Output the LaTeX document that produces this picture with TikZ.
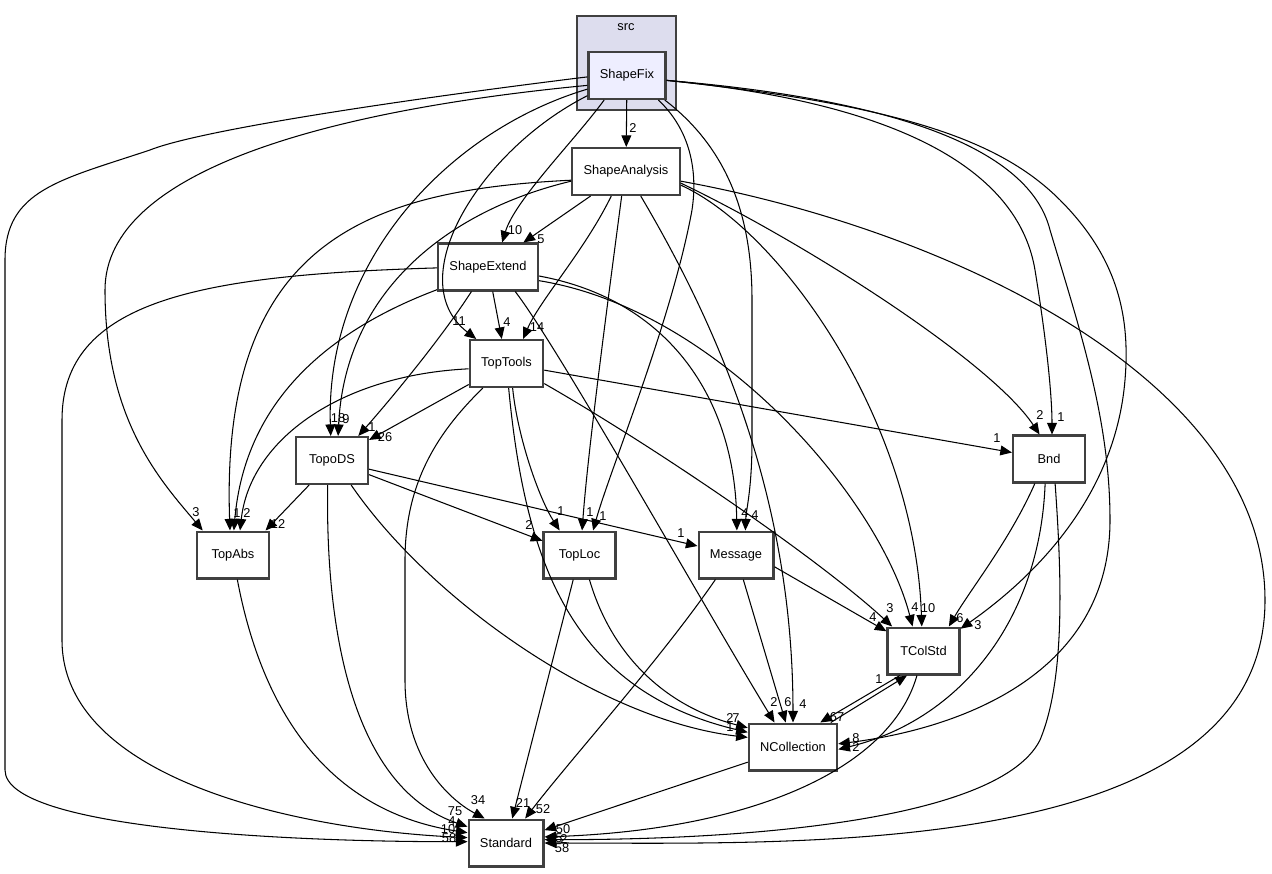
\documentclass[tikz,border=0pt]{standalone}
\usepackage{fontspec}
\setmainfont{Liberation Sans}
\usetikzlibrary{arrows.meta}

\definecolor{clusterfill}{HTML}{DDDDEE}
\definecolor{mainfill}{HTML}{EEEEFF}
\definecolor{boxline}{HTML}{404040}

\begin{document}
\begin{tikzpicture}[x=0.02cm,y=-0.02cm,
  dirbox/.style={rectangle,draw=boxline,line width=1.2pt,fill=white,minimum width=41pt,minimum height=26.7pt,inner xsep=6.5pt,font=\fontsize{7.3}{8}\selectfont},
  dep/.style={-{Triangle[length=6.6pt,width=5.6pt]},line width=0.6pt},
  lbl/.style={font=\fontsize{7.3}{8}\selectfont,inner sep=0pt}]
\useasboundingbox (0,0) rectangle (1272,873);

% src cluster
\node[draw=boxline,line width=1.2pt,fill=clusterfill,minimum width=56.3pt,minimum height=53.5pt,inner sep=0pt] (srcbox) at (626.5,63) {};
\node[lbl] (srclbl) at (626,27) {src};

\node[dirbox,fill=mainfill] (sf) at (627,75.5) {ShapeFix};
\node[dirbox] (sa) at (626,171.5) {ShapeAnalysis};
\node[dirbox] (se) at (488,267) {ShapeExtend};
\node[dirbox] (tt) at (506.5,363.5) {TopTools};
\node[dirbox] (tds) at (332,460.5) {TopoDS};
\node[dirbox] (tab) at (233,555) {TopAbs};
\node[dirbox] (tl) at (579.5,555) {TopLoc};
\node[dirbox] (msg) at (736,555) {Message};
\node[dirbox] (bnd) at (1049,459) {Bnd};
\node[dirbox] (tcs) at (923.5,651) {TColStd};
\node[dirbox] (nc) at (793,747) {NCollection};
\node[dirbox] (std) at (506,843) {Standard};

% ShapeFix
\draw[dep] (sf) -- (sa);
\draw[dep] (sf.-133) .. controls (575,140) and (515,200) .. (se.60);
\draw[dep] (sf.-153) .. controls (480,150) and (400,280) .. (tt.141);
\draw[dep] (sf.-161) .. controls (450,130) and (325,260) .. (tds.93);
\draw[dep] (sf.-166) .. controls (330,110) and (105,170) .. (105,290) .. controls (105,420) and (160,480) .. (tab.141);
\draw[dep] (sf.-178) .. controls (400,100) and (200,130) .. (150,150) .. controls (60,180) and (5,190) .. (5,260) -- (5,770) .. controls (5,830) and (300,842) .. (std.178);
\draw[dep] (sf.-38) .. controls (690,130) and (698,170) .. (692,210) .. controls (672,320) and (610,470) .. (tl.61);
\draw[dep] (sf.-33) .. controls (730,150) and (752,220) .. (752,300) -- (752,440) .. controls (752,490) and (746,510) .. (msg.69);
\draw[dep] (sf.-7) .. controls (920,105) and (1020,180) .. (1035,270) .. controls (1048,350) and (1052,400) .. (bnd.83);
\draw[dep] (sf.-7) .. controls (900,105) and (1000,140) .. (1060,200) .. controls (1120,260) and (1130,320) .. (1125,380) .. controls (1115,500) and (1030,580) .. (tcs.31);
\draw[dep] (sf.-7) .. controls (900,100) and (1030,150) .. (1050,230) .. controls (1080,330) and (1110,420) .. (1110,520) .. controls (1110,680) and (950,730) .. (nc.4);

% ShapeAnalysis
\draw[dep] (sa) -- (se);
\draw[dep] (sa.-121) .. controls (585,250) and (540,300) .. (tt.56);
\draw[dep] (sa.-100) .. controls (608,300) and (588,450) .. (tl.84);
\draw[dep] (sa.-59) .. controls (720,330) and (793,500) .. (nc.90);
\draw[dep] (sa.-170) .. controls (450,210) and (345,290) .. (tds.76);
\draw[dep] (sa.-171) .. controls (370,190) and (220,240) .. (tab.97);
\draw[dep] (sa.-14) .. controls (780,230) and (915,420) .. (tcs.94);
\draw[dep] (sa.-12) .. controls (800,240) and (990,360) .. (bnd.111);
\draw[dep] (sa.-10) .. controls (950,230) and (1265,380) .. (1265,600) .. controls (1265,860) and (800,843) .. (std.0);

% ShapeExtend
\draw[dep] (se) -- (tt);
\draw[dep] (se.-124) .. controls (440,340) and (390,400) .. (tds.43);
\draw[dep] (se.-156) .. controls (330,330) and (245,400) .. (tab.88);
\draw[dep] (se.-179) .. controls (200,275) and (62,300) .. (62,420) -- (62,640) .. controls (62,780) and (300,830) .. (std.172);
\draw[dep] (se.-10) .. controls (670,300) and (735,400) .. (msg.88);
\draw[dep] (se.-15) .. controls (720,310) and (880,500) .. (tcs.114);
\draw[dep] (se.-42) .. controls (560,350) and (700,600) .. (nc.127);

% TopTools
\draw[dep] (tt) -- (tds);
\draw[dep] (tt.188) .. controls (340,375) and (250,440) .. (tab.74);
\draw[dep] (tt.-76) .. controls (518,440) and (540,500) .. (tl.129);
\draw[dep] (tt) -- (bnd);
\draw[dep] (tt.-28) .. controls (660,450) and (820,560) .. (tcs.142);
\draw[dep] (tt.-85) .. controls (525,560) and (570,690) .. (nc.162);
\draw[dep] (tt.-134) .. controls (440,430) and (405,480) .. (405,560) -- (405,680) .. controls (405,760) and (450,800) .. (std.131);

% TopoDS
\draw[dep] (tds.-133) -- (tab.37);
\draw[dep] (tds) -- (tl);
\draw[dep] (tds) -- (msg);
\draw[dep] (tds.-52) .. controls (430,600) and (600,720) .. (nc.168);
\draw[dep] (tds.-100) .. controls (325,650) and (360,790) .. (std.157);

\draw[dep] (tab.-80) .. controls (260,700) and (320,810) .. (std.165);

\draw[dep] (tl) -- (std);
\draw[dep] (tl.-68) .. controls (610,650) and (660,705) .. (nc.157);

\draw[dep] (msg.-130) .. controls (660,660) and (570,760) .. (std.52);
\draw[dep] (msg) -- (nc);
\draw[dep] (msg.-17) -- (tcs.152);

\draw[dep] (bnd.-120) .. controls (1010,540) and (970,590) .. (tcs.44);
\draw[dep] (bnd.-99) .. controls (1040,620) and (960,720) .. (nc.-3);
\draw[dep] (bnd.-76) .. controls (1062,580) and (1065,680) .. (1040,740) .. controls (1000,820) and (750,840) .. (std.5);

\draw[dep] (tcs.-134) -- (nc.42);
\draw[dep] (tcs.-105) .. controls (890,770) and (750,830) .. (std.9);
\draw[dep] (nc.33) -- (tcs.-124);
\draw[dep] (nc) -- (std);

% edge counts
\foreach \t/\x/\y [count=\i] in {2/633/128, 10/515/230, 5/541/239, 11/459/321, 4/507/322, 14/537/327,
  18/338/418, 9/346/419, 1/372/427, 26/385/437, 3/196/512, 1/237/513, 2/247/513, 12/278/524,
  2/529/525, 1/561/511, 1/590/512, 1/603/516, 1/681/533, 4/745/513, 4/755/515,
  2/1040/415, 1/1061/417, 1/997/438, 4/873/617, 3/890/608, 4/915/607, 10/928/608, 6/960/618, 3/978/625,
  1/879/679, 67/837/717, 2/730/718, 7/736/718, 1/730/727, 2/774/702, 6/788/702, 4/803/704,
  8/856/738, 2/856/747, 75/455/811, 4/452/821, 10/448/829, 58/449/838, 34/478/800, 21/523/803,
  52/543/809, 50/563/829, 5/559/838, 2/564/839, 58/562/848}
  \node[lbl] (lab\i) at (\x,\y) {\t};
\end{tikzpicture}
\end{document}
